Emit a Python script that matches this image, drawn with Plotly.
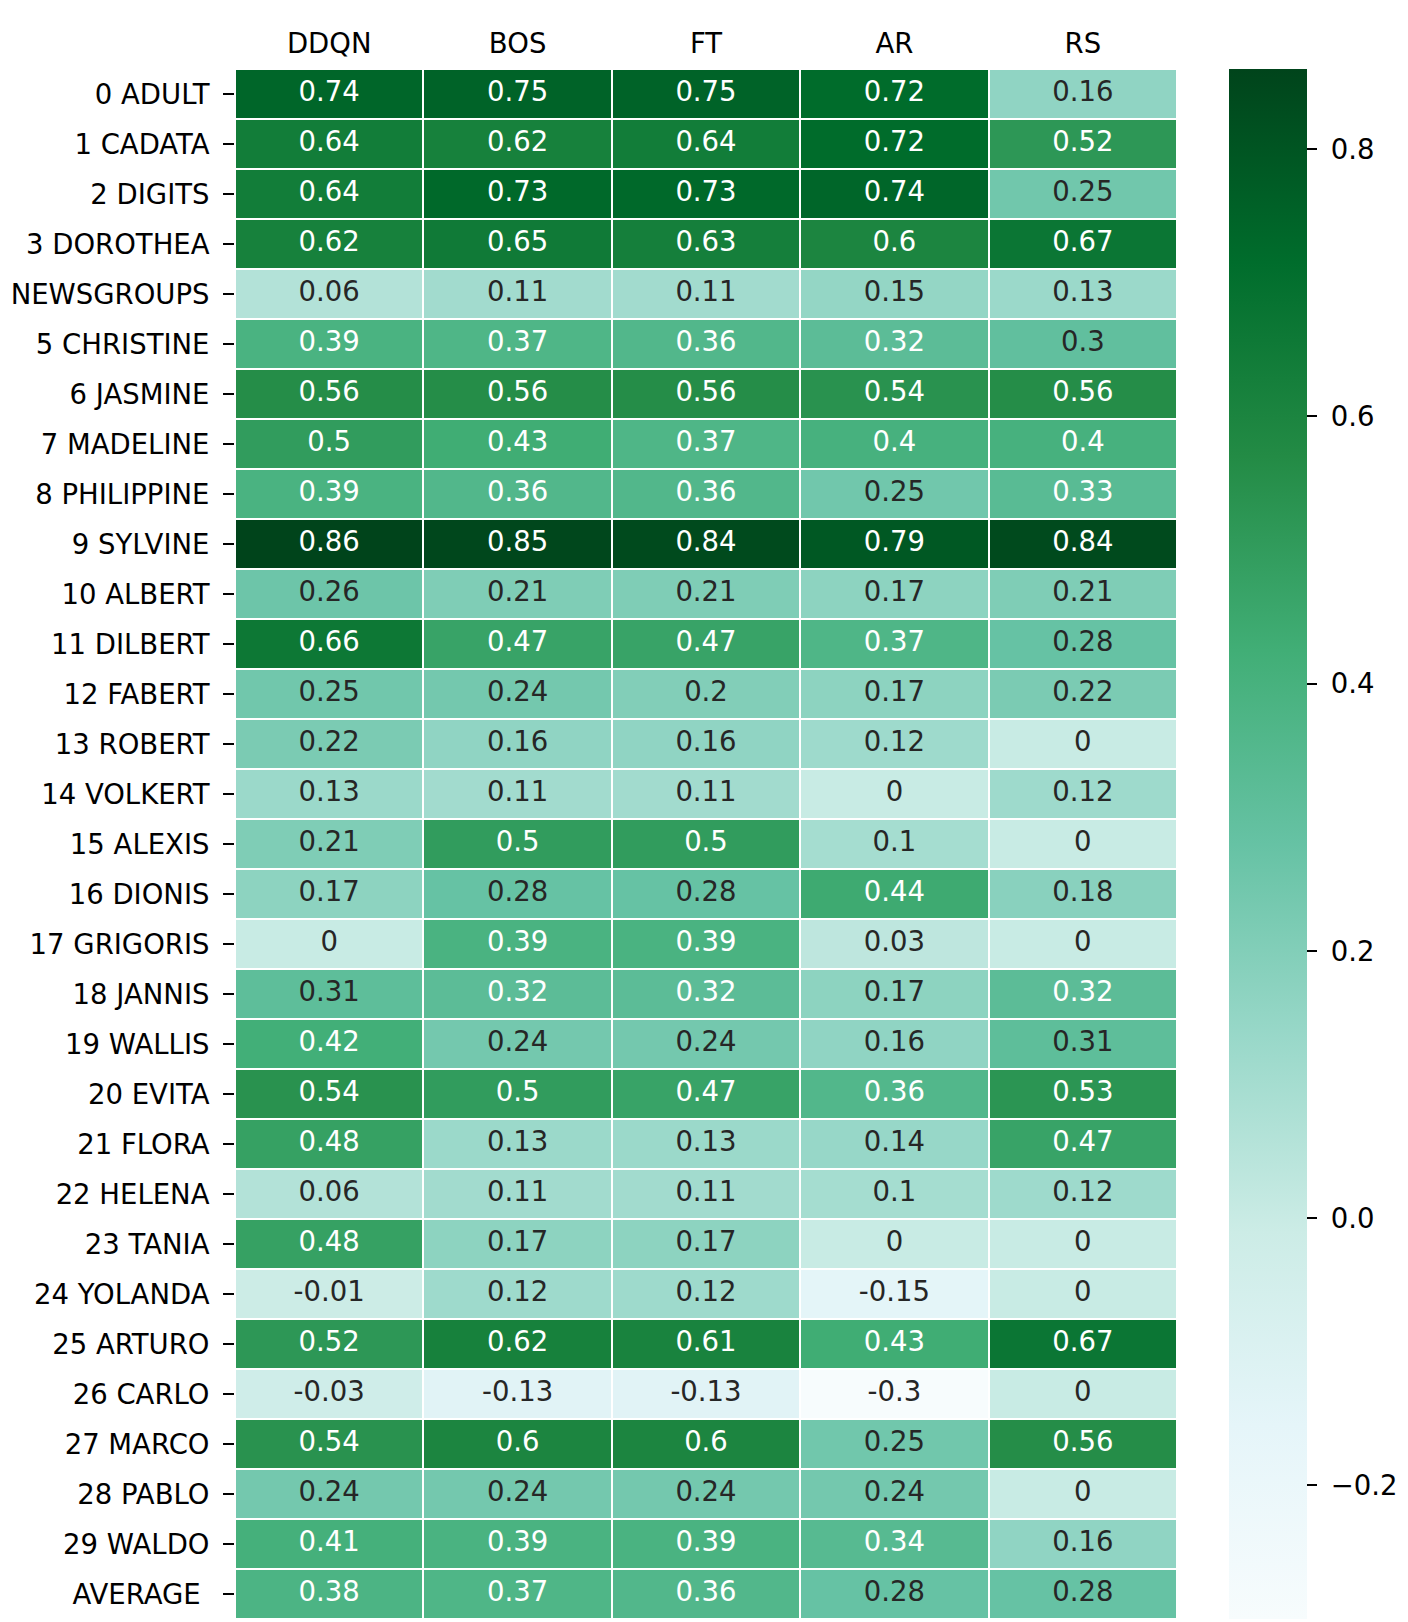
import plotly.graph_objects as go

methods = ["DDQN", "BOS", "FT", "AR", "RS"]
datasets = ["0 ADULT", "1 CADATA", "2 DIGITS", "3 DOROTHEA", "NEWSGROUPS",
            "5 CHRISTINE", "6 JASMINE", "7 MADELINE", "8 PHILIPPINE", "9 SYLVINE",
            "10 ALBERT", "11 DILBERT", "12 FABERT", "13 ROBERT", "14 VOLKERT",
            "15 ALEXIS", "16 DIONIS", "17 GRIGORIS", "18 JANNIS", "19 WALLIS",
            "20 EVITA", "21 FLORA", "22 HELENA", "23 TANIA", "24 YOLANDA",
            "25 ARTURO", "26 CARLO", "27 MARCO", "28 PABLO", "29 WALDO", "AVERAGE "]

ddqn = [0.74, 0.64, 0.64, 0.62, 0.06, 0.39, 0.56, 0.5, 0.39, 0.86, 0.26, 0.66, 0.25, 0.22, 0.13,
        0.21, 0.17, 0, 0.31, 0.42, 0.54, 0.48, 0.06, 0.48, -0.01, 0.52, -0.03, 0.54, 0.24, 0.41, 0.38]
bos = [0.75, 0.62, 0.73, 0.65, 0.11, 0.37, 0.56, 0.43, 0.36, 0.85, 0.21, 0.47, 0.24, 0.16, 0.11,
       0.5, 0.28, 0.39, 0.32, 0.24, 0.5, 0.13, 0.11, 0.17, 0.12, 0.62, -0.13, 0.6, 0.24, 0.39, 0.37]
ft = [0.75, 0.64, 0.73, 0.63, 0.11, 0.36, 0.56, 0.37, 0.36, 0.84, 0.21, 0.47, 0.2, 0.16, 0.11,
      0.5, 0.28, 0.39, 0.32, 0.24, 0.47, 0.13, 0.11, 0.17, 0.12, 0.61, -0.13, 0.6, 0.24, 0.39, 0.36]
ar = [0.72, 0.72, 0.74, 0.6, 0.15, 0.32, 0.54, 0.4, 0.25, 0.79, 0.17, 0.37, 0.17, 0.12, 0,
      0.1, 0.44, 0.03, 0.17, 0.16, 0.36, 0.14, 0.1, 0, -0.15, 0.43, -0.3, 0.25, 0.24, 0.34, 0.28]
rs = [0.16, 0.52, 0.25, 0.67, 0.13, 0.3, 0.56, 0.4, 0.33, 0.84, 0.21, 0.28, 0.22, 0, 0.12,
      0, 0.18, 0, 0.32, 0.31, 0.53, 0.47, 0.12, 0, 0, 0.67, 0, 0.56, 0, 0.16, 0.28]

cbar_ticks = [-0.2, 0, 0.2, 0.4, 0.6, 0.8]
cbar_labels = ["\u22120.2", "0.0", "0.2", "0.4", "0.6", "0.8"]

cols = [ddqn, bos, ft, ar, rs]
z = [[c[i] for c in cols] for i in range(len(datasets))]
zmin, zmax = -0.3, 0.86

# BuGn (ColorBrewer 9)
bugn = [(247, 252, 253), (229, 245, 249), (204, 236, 230), (153, 216, 201), (102, 194, 164),
        (65, 174, 118), (35, 139, 69), (0, 109, 44), (0, 68, 27)]
scale = [[i / 8, "rgb(%d,%d,%d)" % c] for i, c in enumerate(bugn)]


def cmap(v):
    t = (v - zmin) / (zmax - zmin)
    t = min(max(t, 0), 1) * 8
    i = min(int(t), 7)
    f = t - i
    return [bugn[i][k] + (bugn[i + 1][k] - bugn[i][k]) * f for k in range(3)]


def lum(rgb):
    out = []
    for c in rgb:
        c = c / 255
        out.append(c / 12.92 if c <= 0.03928 else ((c + 0.055) / 1.055) ** 2.4)
    return 0.2126 * out[0] + 0.7152 * out[1] + 0.0722 * out[2]


tx, ty, tt, tc = [], [], [], []
for i, name in enumerate(datasets):
    for j, m in enumerate(methods):
        v = z[i][j]
        tx.append(m)
        ty.append(name)
        tt.append("{:.2g}".format(v))
        tc.append("rgb(38,38,38)" if lum(cmap(v)) > 0.408 else "white")

fig = go.Figure()
fig.add_trace(go.Heatmap(
    z=z, x=methods, y=datasets, colorscale=scale, zmin=zmin, zmax=zmax,
    xgap=2, ygap=2, hoverinfo="skip",
    colorbar=dict(x=1.0552, xanchor="left", xpad=0, y=0.5, yanchor="middle", ypad=0,
                  len=1, lenmode="fraction", thickness=78, outlinewidth=0,
                  ticks="outside", ticklen=10, tickwidth=1.5, tickcolor="black",
                  tickvals=cbar_ticks,
                  ticktext=["\u00a0" + s for s in cbar_labels],
                  tickfont=dict(size=27.5, color="black"))
))
fig.add_trace(go.Scatter(
    x=tx, y=ty, mode="text", text=tt, textfont=dict(size=27.5, color=tc),
    hoverinfo="skip", showlegend=False
))
fig.update_layout(
    width=1408, height=1622,
    margin=dict(l=227, r=239, t=61, b=11),
    plot_bgcolor="white", paper_bgcolor="white",
    font=dict(family="DejaVu Sans", size=27.5, color="black"),
    showlegend=False,
    xaxis=dict(side="top", ticks="", showgrid=False, zeroline=False, showline=False,
               range=[-0.5, len(methods) - 0.5], automargin=False,
               ticklabelstandoff=10, tickfont=dict(size=27.5, color="black")),
    yaxis=dict(range=[len(datasets) - 0.5, -0.5], ticks="outside", ticklen=11, tickwidth=1.5,
               tickcolor="black", showgrid=False, zeroline=False, showline=False,
               automargin=False,
               ticklabelstandoff=8, tickfont=dict(size=27.5, color="black")),
)
fig.write_html("out.html")
